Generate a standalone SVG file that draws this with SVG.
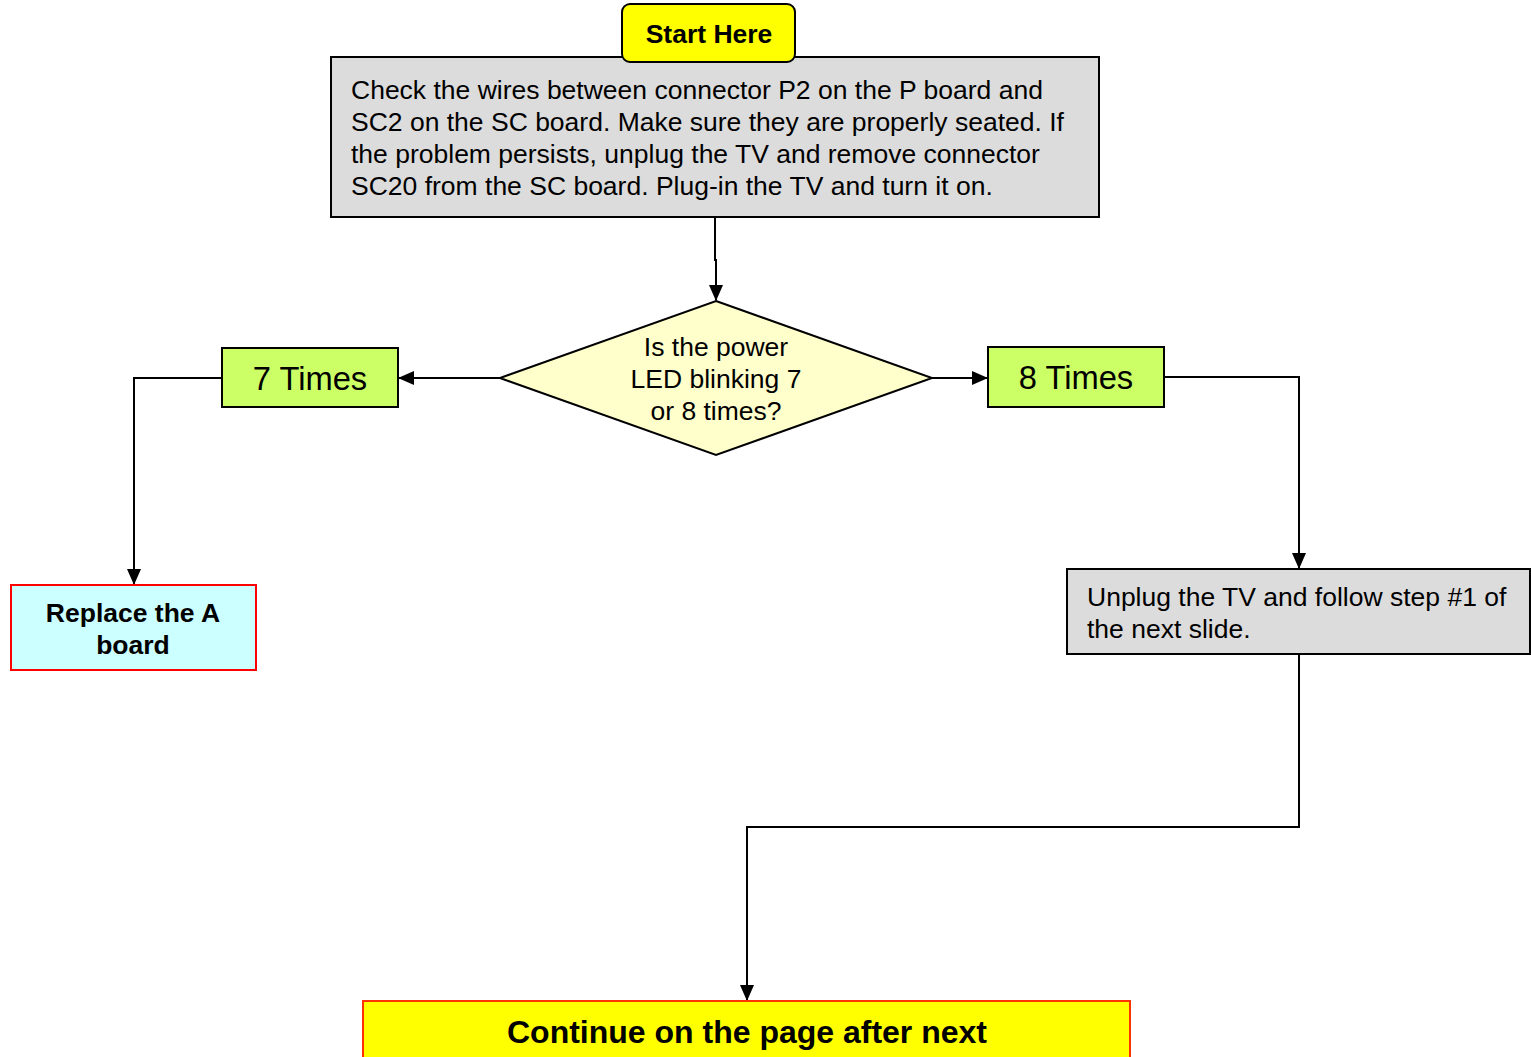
<svg xmlns="http://www.w3.org/2000/svg" width="1531" height="1057" viewBox="0 0 1531 1057">
<style>
text{font-family:"Liberation Sans",Arial,sans-serif;fill:#000}
.n{font-size:26.5px}
.b{font-weight:bold}
.c{text-anchor:middle}
.ln{fill:none;stroke:#000;stroke-width:2}
</style>
<defs>
<marker id="ah" markerWidth="16" markerHeight="14" refX="15" refY="7" orient="auto" markerUnits="userSpaceOnUse">
<path d="M0,0 L16,7 L0,14 Z" fill="#000"/>
</marker>
</defs>
<rect width="1531" height="1057" fill="#fff"/>
<g id="connectors">
<polyline class="ln" points="715,217 715,260 716,260 716,300" marker-end="url(#ah)"/>
<polyline class="ln" points="500,378 399,378" marker-end="url(#ah)"/>
<polyline class="ln" points="932,378 987,378" marker-end="url(#ah)"/>
<polyline class="ln" points="222,378 134,378 134,584" marker-end="url(#ah)"/>
<polyline class="ln" points="1164,377 1299,377 1299,568" marker-end="url(#ah)"/>
<polyline class="ln" points="1299,654 1299,827 747,827 747,1000" marker-end="url(#ah)"/>
</g>
<g id="check">
<rect x="331" y="57" width="768" height="160" fill="#dcdcdc" stroke="#000" stroke-width="2"/>
<text class="n" x="351" y="99">Check the wires between connector P2 on the P board and</text>
<text class="n" x="351" y="131">SC2 on the SC board. Make sure they are properly seated. If</text>
<text class="n" x="351" y="163">the problem persists, unplug the TV and remove connector</text>
<text class="n" x="351" y="195">SC20 from the SC board. Plug-in the TV and turn it on.</text>
</g>
<g id="start">
<rect x="622" y="4" width="173" height="58" rx="8" fill="#ffff00" stroke="#000" stroke-width="2"/>
<text class="n b c" x="709" y="43">Start Here</text>
</g>
<g id="decision">
<polygon points="716,301 932,378 716,455 500,378" fill="#ffffcc" stroke="#000" stroke-width="2"/>
<text class="n c" x="716" y="356">Is the power</text>
<text class="n c" x="716" y="388">LED blinking 7</text>
<text class="n c" x="716" y="420">or 8 times?</text>
</g>
<g id="seven">
<rect x="222" y="348" width="176" height="59" fill="#ccff66" stroke="#000" stroke-width="2"/>
<text class="c" x="310" y="390" font-size="32.7">7 Times</text>
</g>
<g id="eight">
<rect x="988" y="347" width="176" height="60" fill="#ccff66" stroke="#000" stroke-width="2"/>
<text class="c" x="1076" y="389" font-size="32.7">8 Times</text>
</g>
<g id="replace">
<rect x="11" y="585" width="245" height="85" fill="#ccffff" stroke="#ff0000" stroke-width="2"/>
<text class="n b c" x="133" y="622">Replace the A</text>
<text class="n b c" x="133" y="654">board</text>
</g>
<g id="unplug">
<rect x="1067" y="569" width="463" height="85" fill="#dcdcdc" stroke="#000" stroke-width="2"/>
<text class="n" x="1087" y="606">Unplug the TV and follow step #1 of</text>
<text class="n" x="1087" y="638">the next slide.</text>
</g>
<g id="continue">
<rect x="363" y="1001" width="767" height="70" fill="#ffff00" stroke="#ff3300" stroke-width="2"/>
<text class="b c" x="747" y="1043" font-size="32" textLength="480" lengthAdjust="spacingAndGlyphs">Continue on the page after next</text>
</g>
</svg>
